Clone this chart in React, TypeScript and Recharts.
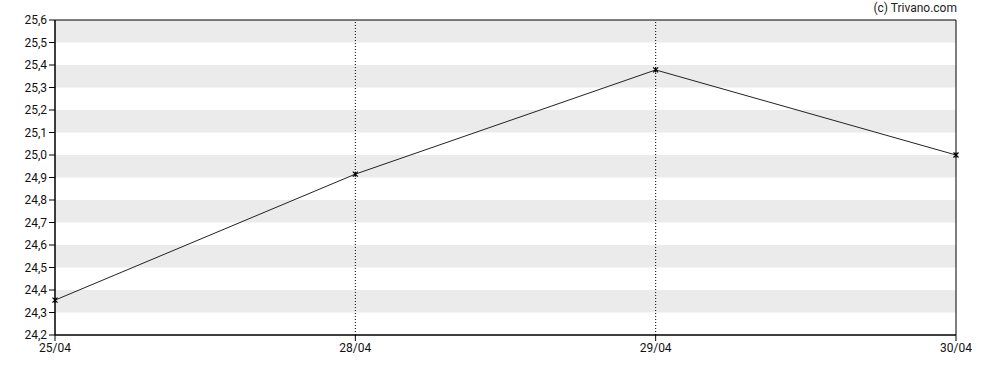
import React from "react";
import {
  LineChart,
  Line,
  XAxis,
  YAxis,
  ReferenceArea,
  ReferenceLine,
} from "recharts";

const dates = ["25/04", "28/04", "29/04", "30/04"];
const prices = [24.355, 24.915, 25.378, 25.0];
const yTicks = [24.2, 24.3, 24.4, 24.5, 24.6, 24.7, 24.8, 24.9, 25.0, 25.1, 25.2, 25.3, 25.4, 25.5, 25.6];
// grey stripes (lower, upper)
const bands: [number, number][] = [
  [24.3, 24.4],
  [24.5, 24.6],
  [24.7, 24.8],
  [24.9, 25.0],
  [25.1, 25.2],
  [25.3, 25.4],
  [25.5, 25.6],
];
const dottedDates = ["28/04", "29/04"];

const data = dates.map((d, i) => ({ date: d, price: prices[i] }));

const fmt = (v: number) => v.toFixed(1).replace(".", ",");

const StarDot = (props: any) => {
  const { cx, cy } = props;
  if (cx == null || cy == null) return null;
  const s = 2.5;
  return (
    <g stroke="#000" strokeWidth={1.2}>
      <line x1={cx - s} y1={cy - s} x2={cx + s} y2={cy + s} />
      <line x1={cx - s} y1={cy + s} x2={cx + s} y2={cy - s} />
      <line x1={cx} y1={cy - s} x2={cx} y2={cy + s} />
    </g>
  );
};

export default function App() {
  const font = "Roboto, Arial, sans-serif";
  return (
    <div style={{ position: "absolute", left: 0, top: 0, width: 988, height: 370, background: "#fff", fontFamily: font }}>
      <span
        style={{
          position: "absolute",
          right: 31,
          top: 1,
          fontSize: 12,
          color: "#222",
          fontFamily: font,
        }}
      >
        (c) Trivano.com
      </span>
      <LineChart
        width={988}
        height={370}
        data={data}
        margin={{ top: 20, right: 32, bottom: 15, left: 0 }}
      >
        {bands.map(([a, b]) => (
          <ReferenceArea key={a} y1={a} y2={b} fill="#ebebeb" fillOpacity={1} stroke="none" />
        ))}
        {dottedDates.map((d) => (
          <ReferenceLine key={d} x={d} stroke="#000" strokeDasharray="1 2" />
        ))}
        <ReferenceArea
          x1="25/04"
          x2="30/04"
          y1={24.2}
          y2={25.6}
          fill="none"
          stroke="#000"
          strokeWidth={1}
        />
        <XAxis
          dataKey="date"
          axisLine={{ stroke: "#000" }}
          tickLine={{ stroke: "#000" }}
          tick={{ fill: "#111", fontSize: 12, fontFamily: font }}
          height={20}
          interval={0}
        />
        <YAxis
          domain={[24.2, 25.6]}
          ticks={yTicks}
          tickFormatter={fmt}
          width={55}
          axisLine={{ stroke: "#000" }}
          tickLine={{ stroke: "#000" }}
          tick={{ fill: "#111", fontSize: 12, fontFamily: font }}
          interval={0}
        />
        <Line
          type="linear"
          dataKey="price"
          stroke="#222"
          strokeWidth={1}
          dot={<StarDot />}
          activeDot={false}
          isAnimationActive={false}
        />
      </LineChart>
    </div>
  );
}
